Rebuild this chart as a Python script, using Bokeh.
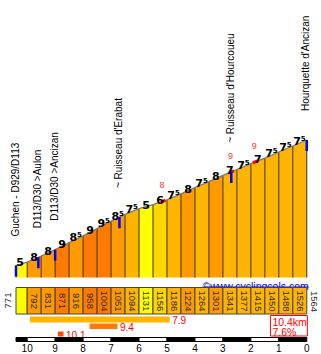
import numpy as np
from math import pi
from bokeh.plotting import figure
from bokeh.models import Range1d
from bokeh.core.properties import value
from bokeh.embed import file_html
from bokeh.resources import INLINE

# ---------------- data ----------------
TOTAL_KM = 10.4
SEG_LEN = [0.4, 0.5, 0.5, 0.5, 0.5, 0.5, 0.5, 0.5, 0.5, 0.5, 0.5,
           0.5, 0.5, 0.5, 0.5, 0.5, 0.5, 0.5, 0.5, 0.5, 0.5]
ELEV = [771, 792, 831, 871, 916, 958, 1004, 1051, 1094, 1131, 1156,
        1186, 1224, 1264, 1301, 1341, 1377, 1415, 1450, 1488, 1526, 1564]
GRADS = [5, 8, 8, 9, 8.5, 9, 9.5, 8.5, 7.5, 5, 6,
         7.5, 8, 7.5, 8, 7, 7.5, 7, 7.5, 7.5, 7.5]
KM_TICKS = [10, 9, 8, 7, 6, 5, 4, 3, 2, 1, 0]
PLACE_NAMES = ["Guchen - D929/D113", "D113/D30 >Aulon", "D113/D30 >Ancizan",
               "~ Ruisseau d'Erabat", "~ Ruisseau d'Hourcoueu", "Hourquette d'Ancizan"]
PLACE_KM = [0.0, 0.8, 1.4, 3.7, 7.7, 10.4]
STEEP_KM = [5.26, 7.71, 8.56]
STEEP_GRAD = [8, 9, 9]
STRETCH_GRAD = [7.9, 9.4, 10.1]
STRETCH_START = [0.5, 2.63, 1.5]
STRETCH_LEN = [5.0, 1.0, 0.2]
LINK = "\u00a9www.cyclingcols.com"

# ---------------- layout / style ----------------
W, H = 321, 354
PX_PER_KM = 27.96
LEFT_PAD = 15.5
PX_PER_M = 0.15826
ROW_START = 265.0          # pixel row of first elevation
ROW_BASE = 277.0           # bottom of the profile fill
FONT = value("Liberation Sans")
BOLD_FONT = value("DejaVu Sans")

def grad_color(g):
    if g >= 10:
        return "#FF4A00"
    if g >= 9:
        return "#FF7A00"
    if g >= 8:
        return "#FF9B00"
    if g >= 7:
        return "#FFB500"
    if g >= 6:
        return "#FFD600"
    return "#FFFF00"

D = np.concatenate([[0.0], np.cumsum(SEG_LEN)])
E = np.array(ELEV, dtype=float)

x_range = Range1d(-LEFT_PAD / PX_PER_KM, (W - LEFT_PAD) / PX_PER_KM)
e_top = ELEV[0] + ROW_START / PX_PER_M
e_bot = ELEV[0] - (H - ROW_START) / PX_PER_M
base_e = ELEV[0] - (ROW_BASE - ROW_START) / PX_PER_M

p = figure(width=W, height=H, x_range=x_range, y_range=Range1d(e_bot, e_top),
           toolbar_location=None, output_backend="svg", min_border=0,
           x_axis_location=None, y_axis_location=None,
           outline_line_color=None, background_fill_color="white",
           border_fill_color="white")
p.extra_y_ranges = {"rows": Range1d(H, 0)}
p.grid.visible = False

seg_colors = [grad_color(g) for g in GRADS]

# profile fill
p.patches(xs=[[D[i], D[i + 1], D[i + 1], D[i]] for i in range(len(GRADS))],
          ys=[[E[i], E[i + 1], base_e, base_e] for i in range(len(GRADS))],
          fill_color=seg_colors, line_color=None)
# separators
p.segment(x0=D, y0=E, x1=D, y1=[base_e] * len(D), line_color="#333333", line_width=1)
# profile line
p.line(D, E, line_color="#7a7a7a", line_width=1.3)

# steepest bits
for k in STEEP_KM:
    xs = [k - 0.085, k + 0.085]
    p.line(xs, np.interp(xs, D, E), line_color="#FF0000", line_width=3)
p.text(x=STEEP_KM, y=np.interp(STEEP_KM, D, E), text=[str(g) for g in STEEP_GRAD],
       y_offset=-16, x_offset=-1, text_align="center", text_baseline="alphabetic",
       text_font=FONT, text_font_size="9px", text_color="#FF3333")

# place markers
pe = np.interp(PLACE_KM, D, E)
p.segment(x0=PLACE_KM, y0=pe, x1=PLACE_KM, y1=pe - 70, line_color="#0000FF", line_width=2.5)
p.text(x=PLACE_KM, y=pe, text=PLACE_NAMES, angle=pi / 2, x_offset=-1, y_offset=-29,
       text_align="left", text_baseline="middle", text_font=FONT,
       text_font_size="10px", text_color="black")

# gradient labels
lab_d = D[1:] - 0.25
lab_e = np.interp(lab_d, D, E)
whole = [i for i, g in enumerate(GRADS) if g == int(g)]
half = [i for i, g in enumerate(GRADS) if g != int(g)]
p.text(x=lab_d[whole], y=lab_e[whole], text=[str(int(GRADS[i])) for i in whole],
       y_offset=-2, text_align="center", text_baseline="alphabetic",
       text_font=BOLD_FONT, text_font_style="bold", text_font_size="11px", text_color="black")
p.text(x=lab_d[half], y=lab_e[half], text=[str(int(GRADS[i])) for i in half],
       y_offset=-2, x_offset=1, text_align="right", text_baseline="alphabetic",
       text_font=BOLD_FONT, text_font_style="bold", text_font_size="11px", text_color="black")
p.text(x=lab_d[half], y=lab_e[half], text=["5" for i in half],
       y_offset=-5, x_offset=1, text_align="left", text_baseline="alphabetic",
       text_font=BOLD_FONT, text_font_style="bold", text_font_size="7px", text_color="black")

# link
p.text(x=[TOTAL_KM], y=[285], y_range_name="rows", text=[LINK], x_offset=2,
       text_align="right", text_baseline="alphabetic", text_font=FONT,
       text_font_size="10.5px", text_color="#0000FF")
p.segment(x0=[TOTAL_KM - 3.69], y0=[286.5], x1=[TOTAL_KM + 0.07], y1=[286.5],
          y_range_name="rows", line_color="#0000FF", line_width=1)

# elevation boxes
p.quad(left=D[:-1], right=D[1:], top=287, bottom=313.5, y_range_name="rows",
       fill_color=seg_colors, line_color="#444444", line_width=1)
mids = (D[1:-1] + D[2:]) / 2
p.text(x=mids, y=[300.5] * len(mids), y_range_name="rows", text=[str(e) for e in ELEV[1:-1]],
       angle=-pi / 2, text_align="center", text_baseline="middle", text_font=FONT,
       text_font_size="9.5px", text_color="#2a2a2a")
p.text(x=[D[0]], y=[300], y_range_name="rows", text=[str(ELEV[0])], angle=pi / 2, x_offset=-8.5,
       text_align="center", text_baseline="middle", text_font=FONT,
       text_font_size="9.5px", text_color="#2a2a2a")
p.text(x=[D[-1]], y=[301], y_range_name="rows", text=[str(ELEV[-1])], angle=-pi / 2, x_offset=7,
       text_align="center", text_baseline="middle", text_font=FONT,
       text_font_size="9.5px", text_color="#2a2a2a")

# stretch bars
bar_rows = [(316, 322), (323, 328.5), (331, 336)]
for g, s, l, (t, b) in zip(STRETCH_GRAD, STRETCH_START, STRETCH_LEN, bar_rows):
    p.quad(left=[s], right=[s + l], top=[t], bottom=[b], y_range_name="rows",
           fill_color=grad_color(g), line_color=None)
    p.text(x=[s + l], y=[(t + b) / 2 + 0.5], y_range_name="rows", text=[f"{g:.1f}"], x_offset=2.5,
           text_align="left", text_baseline="middle", text_font=FONT,
           text_font_size="10px", text_color="#FF0000")

# summary box
avg = (ELEV[-1] - ELEV[0]) / (TOTAL_KM * 1000) * 100
p.quad(left=[TOTAL_KM - 1.3], right=[TOTAL_KM + 0.02], top=[315], bottom=[335.5],
       y_range_name="rows", fill_color="white", line_color="#FF0000", line_width=1)
p.text(x=[TOTAL_KM - 1.3, TOTAL_KM - 1.3], y=[321.5, 331], y_range_name="rows",
       text=[f"{TOTAL_KM:.1f}km", f"{avg:.1f}%"], x_offset=2,
       text_align="left", text_baseline="middle", text_font=FONT,
       text_font_size="10.5px", text_color="#FF0000")

# km scale bar
edges = [0.0] + [TOTAL_KM - k for k in KM_TICKS]
p.quad(left=edges[:-1], right=edges[1:], top=337, bottom=341, y_range_name="rows",
       fill_color=["black" if i % 2 == 0 else "white" for i in range(len(edges) - 1)],
       line_color="black", line_width=1)
p.text(x=[TOTAL_KM - k for k in KM_TICKS], y=[347.5] * len(KM_TICKS), y_range_name="rows",
       text=[str(k) for k in KM_TICKS], text_align="center", text_baseline="middle",
       text_font=FONT, text_font_size="10px", text_color="black")

open("out.html", "w").write(file_html(p, INLINE))
